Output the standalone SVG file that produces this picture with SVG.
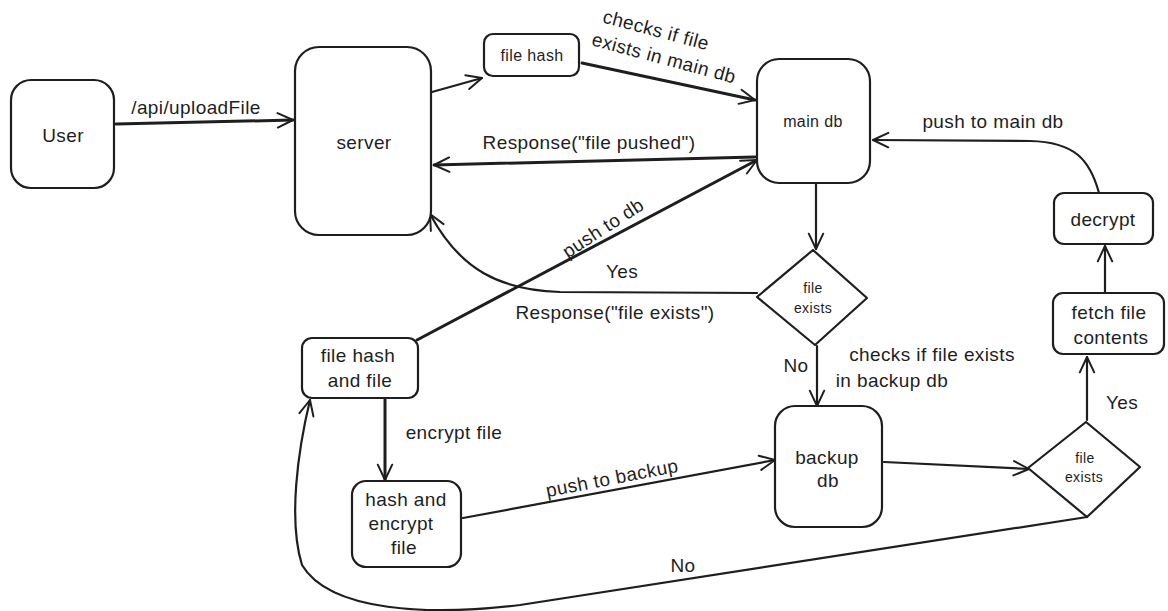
<svg xmlns="http://www.w3.org/2000/svg" width="1168" height="611" viewBox="0 0 1168 611">
<style>
.n{fill:#fff;stroke:#1e1e1e;stroke-width:2.2}
.c{fill:none;stroke:#1e1e1e;stroke-width:2.2;stroke-linecap:round}
.ck{stroke-width:3}
text{font-family:"Liberation Sans","DejaVu Sans",sans-serif;font-size:19px;letter-spacing:0.4px;fill:#1e1e1e;text-anchor:middle;dominant-baseline:central}
.s{font-size:16px}
.sm{font-size:14px}
</style>
<defs>
<marker id="a" viewBox="0 0 20 20" refX="19" refY="10" markerWidth="18" markerHeight="18" markerUnits="userSpaceOnUse" orient="auto">
<path d="M2,2 L19,10 L2,18" fill="none" stroke="#1e1e1e" stroke-width="2.2" stroke-linecap="round" stroke-linejoin="round"/>
</marker>
</defs>
<rect width="1168" height="611" fill="#fff"/>
<g id="connectors">
<path class="c ck" d="M116,124 L293,120" marker-end="url(#a)"/>
<path class="c" d="M432,92 L482,78" marker-end="url(#a)"/>
<path class="c ck" d="M582,63 L755,100" marker-end="url(#a)"/>
<path class="c ck" d="M755,157 L434,165" marker-end="url(#a)"/>
<path class="c ck" d="M417,340 L757,160" marker-end="url(#a)"/>
<path class="c" d="M816,183 L816,249" marker-end="url(#a)"/>
<path class="c" d="M757,293 L560,292 C500,290 460,270 430,214" marker-end="url(#a)"/>
<path class="c" d="M817,346 L817,406" marker-end="url(#a)"/>
<path class="c ck" d="M385,398 L385,480" marker-end="url(#a)"/>
<path class="c" d="M463,518 L775,460" marker-end="url(#a)"/>
<path class="c" d="M884,462 L1029,469" marker-end="url(#a)"/>
<path class="c" d="M1087,420 L1087,357" marker-end="url(#a)"/>
<path class="c" d="M1105,293 L1105,246" marker-end="url(#a)"/>
<path class="c" d="M1099,193 C1090,160 1075,142 1030,141 L873,140" marker-end="url(#a)"/>
<path class="c" d="M1087,517 L520,605 C430,616 330,612 302,565 C288,520 298,450 310,400" marker-end="url(#a)"/>
<text x="196" y="107">/api/uploadFile</text>
<text transform="translate(656,30) rotate(15)">checks if file</text>
<text transform="translate(664,58) rotate(15)">exists in main db</text>
<text x="589" y="142">Response("file pushed")</text>
<text transform="translate(603,228) rotate(-33)">push to db</text>
<text x="622" y="271">Yes</text>
<text x="615" y="312">Response("file exists")</text>
<text x="796" y="365">No</text>
<text x="932" y="354">checks if file exists</text>
<text x="892" y="380">in backup db</text>
<text x="454" y="432">encrypt file</text>
<text transform="translate(612,478) rotate(-11)">push to backup</text>
<text x="1122" y="402">Yes</text>
<text x="993" y="121">push to main db</text>
<text x="683" y="565">No</text>
</g>
<g id="user"><rect class="n" x="11" y="80" width="103" height="108" rx="20"/><text x="63" y="135">User</text></g>
<g id="server"><rect class="n" x="295" y="47" width="136" height="188" rx="24"/><text x="364" y="142">server</text></g>
<g id="filehash"><rect class="n" x="484" y="34" width="95" height="42" rx="9"/><text class="s" x="532" y="55">file hash</text></g>
<g id="maindb"><rect class="n" x="757" y="59" width="113" height="124" rx="22"/><text class="s" x="813" y="121">main db</text></g>
<g id="fileexists1"><path class="n" d="M813,250 L867,298 L815,345 L757,297 Z" stroke-linejoin="round"/><text class="sm" x="813" y="288">file</text><text class="sm" x="813" y="308">exists</text></g>
<g id="filehashandfile"><rect class="n" x="302" y="338" width="116" height="60" rx="10"/><text x="358" y="355">file hash</text><text x="360" y="380">and file</text></g>
<g id="hashencrypt"><rect class="n" x="352" y="481" width="109" height="86" rx="14"/><text x="406" y="499">hash and</text><text x="401" y="523">encrypt</text><text x="404" y="547">file</text></g>
<g id="backupdb"><rect class="n" x="775" y="406" width="107" height="121" rx="20"/><text x="827" y="457">backup</text><text x="828" y="480">db</text></g>
<g id="fileexists2"><path class="n" d="M1086,422 L1140,467 L1087,517 L1028,468 Z" stroke-linejoin="round"/><text class="sm" x="1085" y="458">file</text><text class="sm" x="1084" y="477">exists</text></g>
<g id="fetch"><rect class="n" x="1053" y="293" width="111" height="61" rx="10"/><text x="1109" y="312">fetch file</text><text x="1111" y="337">contents</text></g>
<g id="decrypt"><rect class="n" x="1054" y="193" width="99" height="51" rx="10"/><text x="1103" y="219">decrypt</text></g>
</svg>
